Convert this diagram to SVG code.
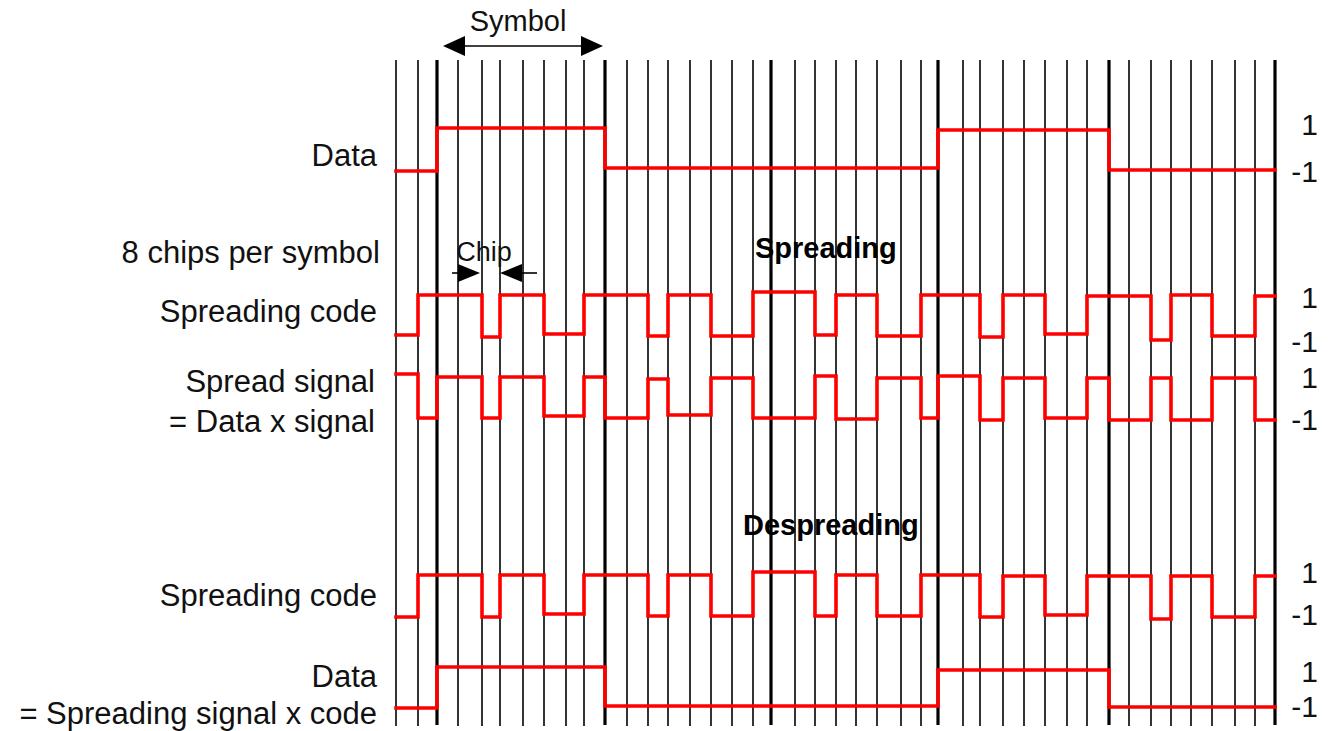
<svg xmlns="http://www.w3.org/2000/svg" width="1332" height="731" viewBox="0 0 1332 731">
<style>
.bg{fill:#ffffff}
.g{stroke:#000;stroke-width:1.6;fill:none}
.gt{stroke:#000;stroke-width:3.2;fill:none}
.w{stroke:#ff0000;stroke-width:3.6;fill:none;stroke-linejoin:miter;stroke-linecap:square}
.t{font-family:"Liberation Sans",Arial,sans-serif;font-size:31px;fill:#111}
.tl{text-anchor:end}
.tr{font-family:"Liberation Sans",Arial,sans-serif;font-size:30px;fill:#111;text-anchor:end}
.b{font-family:"Liberation Sans",Arial,sans-serif;font-size:29px;font-weight:bold;fill:#000}
.a{stroke:#000;stroke-width:1.6;fill:none}
.ah{fill:#000}
</style>
<rect class="bg" x="0" y="0" width="1332" height="731"/>
<g id="grid">
<g class="g">
<line x1="396" y1="60" x2="396" y2="726"/>
<line x1="418" y1="60" x2="418" y2="726"/>
<line x1="458" y1="60" x2="458" y2="726"/>
<line x1="482" y1="60" x2="482" y2="726"/>
<line x1="500" y1="60" x2="500" y2="726"/>
<line x1="523" y1="60" x2="523" y2="726"/>
<line x1="544" y1="60" x2="544" y2="726"/>
<line x1="566" y1="60" x2="566" y2="726"/>
<line x1="584" y1="60" x2="584" y2="726"/>
<line x1="627" y1="60" x2="627" y2="726"/>
<line x1="648" y1="60" x2="648" y2="726"/>
<line x1="668" y1="60" x2="668" y2="726"/>
<line x1="690" y1="60" x2="690" y2="726"/>
<line x1="711" y1="60" x2="711" y2="726"/>
<line x1="732" y1="60" x2="732" y2="726"/>
<line x1="753" y1="60" x2="753" y2="726"/>
<line x1="795" y1="60" x2="795" y2="726"/>
<line x1="815" y1="60" x2="815" y2="726"/>
<line x1="836" y1="60" x2="836" y2="726"/>
<line x1="856" y1="60" x2="856" y2="726"/>
<line x1="877" y1="60" x2="877" y2="726"/>
<line x1="901" y1="60" x2="901" y2="726"/>
<line x1="921" y1="60" x2="921" y2="726"/>
<line x1="963" y1="60" x2="963" y2="726"/>
<line x1="980" y1="60" x2="980" y2="726"/>
<line x1="1003" y1="60" x2="1003" y2="726"/>
<line x1="1024" y1="60" x2="1024" y2="726"/>
<line x1="1045" y1="60" x2="1045" y2="726"/>
<line x1="1067" y1="60" x2="1067" y2="726"/>
<line x1="1087" y1="60" x2="1087" y2="726"/>
<line x1="1129" y1="60" x2="1129" y2="726"/>
<line x1="1151" y1="60" x2="1151" y2="726"/>
<line x1="1171" y1="60" x2="1171" y2="726"/>
<line x1="1191" y1="60" x2="1191" y2="726"/>
<line x1="1212" y1="60" x2="1212" y2="726"/>
<line x1="1235" y1="60" x2="1235" y2="726"/>
<line x1="1255" y1="60" x2="1255" y2="726"/>
</g>
<g class="gt">
<line x1="437" y1="60" x2="437" y2="725"/>
<line x1="605" y1="60" x2="605" y2="725"/>
<line x1="771" y1="60" x2="771" y2="725"/>
<line x1="938" y1="60" x2="938" y2="725"/>
<line x1="1109" y1="60" x2="1109" y2="725"/>
<line x1="1275" y1="60" x2="1275" y2="725"/>
</g>
</g>
<g id="labels-left" class="t tl">
<text x="377" y="166">Data</text>
<text x="380" y="263">8 chips per symbol</text>
<text x="377" y="322">Spreading code</text>
<text x="375" y="392">Spread signal</text>
<text x="375" y="432">= Data x signal</text>
<text x="377" y="606">Spreading code</text>
<text x="377" y="687">Data</text>
<text x="377" y="724">= Spreading signal x code</text>
</g>
<g id="labels-right" class="tr">
<text x="1318" y="135">1</text>
<text x="1318" y="182">-1</text>
<text x="1318" y="308">1</text>
<text x="1318" y="352">-1</text>
<text x="1318" y="388">1</text>
<text x="1318" y="430">-1</text>
<text x="1318" y="583">1</text>
<text x="1318" y="625">-1</text>
<text x="1318" y="682">1</text>
<text x="1318" y="717">-1</text>
</g>
<g id="section-titles" class="b">
<text x="755" y="258">Spreading</text>
<text x="743" y="535">Despreading</text>
</g>
<g id="waveforms" class="w">
<path id="data-top" d="M396,171 H437 V128 H605 V168 H938 V130 H1109 V170 H1275"/>
<path id="code-top" d="M396,335 H418 V295 H482 V337 H500 V295 H544 V334 H584 V295 H648 V336 H668 V295 H711 V336 H753 V292 H815 V335 H836 V295 H877 V336 H921 V295 H980 V337 H1003 V295 H1045 V334 H1087 V296 H1151 V340 H1171 V295 H1212 V336 H1255 V296 H1275"/>
<path id="spread" d="M396,374 H418 V418 H437 V377 H482 V418 H500 V377 H544 V416 H584 V377 H605 V418 H648 V379 H668 V415 H711 V378 H753 V418 H815 V376 H836 V419 H877 V378 H921 V418 H938 V376 H980 V420 H1003 V378 H1045 V418 H1087 V378 H1109 V420 H1151 V378 H1171 V420 H1212 V378 H1255 V420 H1275"/>
<path id="code-bottom" d="M396,617 H418 V575 H482 V617 H500 V575 H544 V614 H584 V575 H648 V616 H668 V575 H711 V616 H753 V572 H815 V616 H836 V575 H877 V616 H921 V575 H980 V617 H1003 V576 H1045 V615 H1087 V576 H1151 V619 H1171 V576 H1212 V617 H1255 V576 H1275"/>
<path id="data-bottom" d="M396,708 H437 V667 H605 V706 H938 V670 H1109 V707 H1275"/>
</g>
<g id="connectors">
<g id="symbol-arrow">
<line class="a" x1="462" y1="46" x2="585" y2="46"/>
<polygon class="ah" points="443,46 465,36 465,56"/>
<polygon class="ah" points="603,46 581,36 581,56"/>
</g>
<g id="chip-arrows">
<line class="a" x1="452" y1="273" x2="462" y2="273"/>
<polygon class="ah" points="480,273 458,264 458,282"/>
<line class="a" x1="518" y1="273" x2="537" y2="273"/>
<polygon class="ah" points="500,273 522,264 522,282"/>
</g>
</g>
<g id="arrow-labels" class="t">
<text x="518" y="31" text-anchor="middle" font-size="29">Symbol</text>
<text x="484" y="261" text-anchor="middle" font-size="27">Chip</text>
</g>
</svg>
